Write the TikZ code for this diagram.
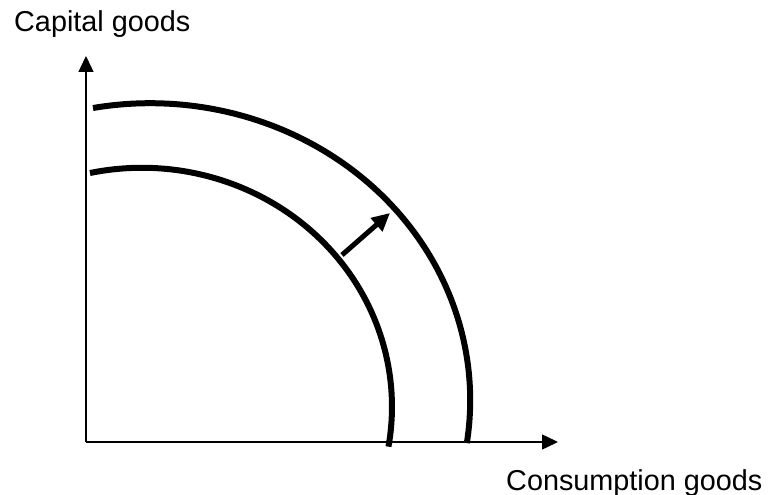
\documentclass[tikz,border=0pt]{standalone}
\usepackage{fontspec}
\setmainfont{Liberation Sans}
\usetikzlibrary{arrows.meta}
\begin{document}
\begin{tikzpicture}[x=1pt,y=1pt,
    axis/.style={line width=1.5pt,-{Triangle[width=15pt,length=16pt]}},
    ppf/.style={line width=6pt},
    shiftarrow/.style={line width=5pt,-{Triangle[width=17pt,length=18pt]}},
    axislabel/.style={font=\fontsize{28.8}{34}\selectfont,anchor=base west,inner sep=0pt}]
    \useasboundingbox (0,0) rectangle (768,495);

    % The axes
    \coordinate (origin) at (86,53);
    \coordinate (ytip) at (86,439);
    \coordinate (xtip) at (558,53);
    \draw[axis] (origin) -- (ytip);
    \draw[axis] (origin) -- (xtip);
    \node[axislabel] (capital) at (14,463) {Capital goods};
    \node[axislabel] (consumption) at (506,5) {Consumption goods};

    % The two frontiers
    \draw[ppf] (90,322) arc[start angle=102, end angle=-9.6, x radius=250, y radius=239];
    \draw[ppf] (93,387) arc[start angle=100.3, end angle=-8.3, x radius=320, y radius=297];

    % The outward shift
    \coordinate (shiftfrom) at (342,240);
    \coordinate (shiftto) at (390,282);
    \draw[shiftarrow] (shiftfrom) -- (shiftto);
\end{tikzpicture}
\end{document}
